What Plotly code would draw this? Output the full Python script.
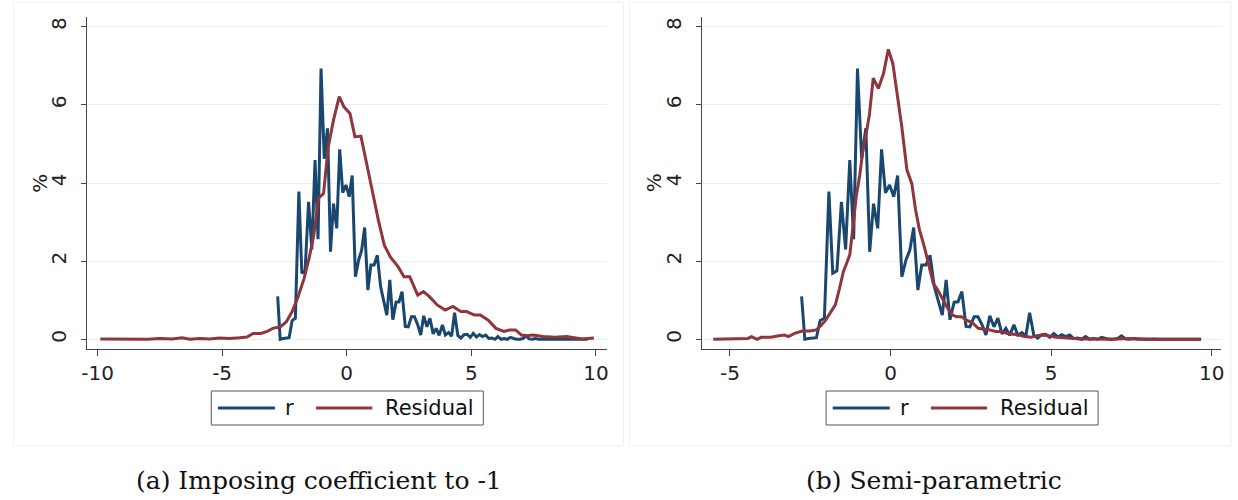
import plotly.graph_objects as go

# ---------------- data ----------------
r_x = [-2.77, -2.67, -2.55, -2.43, -2.31, -2.19, -2.06, -1.92, -1.80, -1.67, -1.53, -1.40, -1.27, -1.15,
       -1.03, -0.90, -0.77, -0.65, -0.53, -0.40, -0.28, -0.16, -0.03, 0.10, 0.22, 0.35, 0.48, 0.60, 0.72,
       0.85, 0.97, 1.10, 1.23, 1.36, 1.48, 1.61, 1.73, 1.85, 1.98, 2.10, 2.22, 2.35, 2.47, 2.60, 2.72,
       2.85, 2.97, 3.09, 3.22, 3.34, 3.47, 3.59, 3.71, 3.84, 3.96, 4.09, 4.21, 4.33, 4.46, 4.58, 4.71,
       4.83, 4.96, 5.08, 5.21, 5.33, 5.45, 5.58, 5.70, 5.83, 5.95, 6.07, 6.20, 6.32, 6.45, 6.57, 6.70,
       6.82, 6.95, 7.07, 7.19, 7.32, 7.44, 7.57, 7.69, 7.82, 7.94, 8.07, 8.19, 8.32, 8.44, 8.57, 8.69,
       8.82, 8.94, 9.07, 9.19, 9.32, 9.44, 9.57, 9.67]
r_y = [1.10, 0.00, 0.02, 0.03, 0.04, 0.48, 0.54, 3.78, 1.69, 1.75, 3.52, 2.30, 4.59, 2.56,
       6.93, 4.62, 5.40, 2.24, 3.47, 2.84, 4.86, 3.75, 3.95, 3.65, 4.19, 1.60, 2.03, 2.28, 2.86,
       1.26, 1.90, 1.90, 2.15, 1.35, 1.00, 0.62, 1.52, 0.50, 0.95, 0.96, 1.22, 0.33, 0.32, 0.58, 0.58,
       0.37, 0.11, 0.60, 0.32, 0.54, 0.14, 0.28, 0.10, 0.37, 0.11, 0.17, 0.08, 0.68, 0.10, 0.03, 0.12,
       0.13, 0.05, 0.15, 0.06, 0.12, 0.07, 0.11, 0.02, 0.03, 0.00, 0.07, 0.00, 0.02, 0.00, 0.05, 0.02,
       0.00, 0.00, 0.02, 0.09, 0.01, 0.00, 0.02, 0.00, 0.01, 0.00, 0.00, 0.01, 0.00, 0.00, 0.00, 0.01,
       0.00, 0.00, 0.00, 0.00, 0.00, 0.00, 0.00, 0.00]

res_a_x = [-9.89, -9.5, -9.0, -8.5, -8.0, -7.5, -7.0, -6.6, -6.3, -5.9, -5.5, -5.1, -4.7, -4.3, -4.0,
           -3.76, -3.44, -3.20, -2.97, -2.66, -2.42, -2.19, -1.95, -1.71, -1.51, -1.32, -1.13, -0.93,
           -0.74, -0.53, -0.30, -0.11, 0.13, 0.33, 0.57, 0.80, 1.04, 1.27, 1.51, 1.75, 2.06, 2.30, 2.53,
           2.85, 3.08, 3.32, 3.63, 3.95, 4.26, 4.58, 4.81, 5.13, 5.36, 5.68, 5.99, 6.31, 6.54, 6.78, 7.01,
           7.25, 7.48, 7.88, 8.35, 8.82, 9.45, 9.92]
res_a_y = [0.01, 0.01, 0.00, 0.01, 0.00, 0.02, 0.01, 0.04, 0.00, 0.02, 0.01, 0.03, 0.02, 0.04, 0.06,
           0.15, 0.15, 0.20, 0.28, 0.32, 0.45, 0.71, 1.09, 1.56, 2.07, 2.67, 3.61, 3.73,
           4.93, 5.61, 6.21, 5.95, 5.78, 5.18, 5.20, 4.50, 3.73, 3.05, 2.41, 2.11, 1.86, 1.60, 1.60,
           1.13, 1.22, 1.09, 0.88, 0.75, 0.84, 0.71, 0.71, 0.62, 0.62, 0.49, 0.28, 0.20, 0.24, 0.24, 0.11,
           0.09, 0.11, 0.07, 0.05, 0.07, 0.01, 0.03]

res_b_x = [-5.52, -4.70, -4.45, -4.33, -4.15, -4.03, -3.72, -3.48, -3.30, -3.18, -2.99, -2.75, -2.51,
           -2.32, -2.20, -2.02, -1.84, -1.72, -1.59, -1.47, -1.37, -1.27, -1.17, -1.07, -0.96, -0.86,
           -0.74, -0.66, -0.54, -0.38, -0.22, -0.07, 0.07, 0.21, 0.35, 0.51, 0.66, 0.78, 0.90, 1.05,
           1.18, 1.33, 1.47, 1.63, 1.78, 1.93, 2.06, 2.21, 2.36, 2.54, 2.73, 2.91, 3.09, 3.27, 3.46,
           3.64, 3.82, 4.00, 4.18, 4.37, 4.55, 4.73, 4.91, 5.16, 5.52, 5.89, 6.25, 6.86, 7.47, 8.08,
           8.69, 9.66]
res_b_y = [0.00, 0.02, 0.02, 0.07, 0.00, 0.05, 0.05, 0.09, 0.11, 0.07, 0.15, 0.21, 0.21,
           0.24, 0.32, 0.49, 0.71, 0.88, 1.30, 1.73, 1.94, 2.16, 2.88, 3.65, 4.20, 4.84,
           5.35, 5.74, 6.68, 6.42, 6.80, 7.42, 7.06, 6.29, 5.44, 4.33, 3.99, 3.31, 2.80, 2.37,
           1.94, 1.43, 1.26, 1.01, 0.79, 0.62, 0.58, 0.58, 0.49, 0.43, 0.28, 0.26, 0.24, 0.20, 0.20,
           0.15, 0.13, 0.11, 0.07, 0.05, 0.09, 0.11, 0.09, 0.05, 0.03, 0.01, 0.01, 0.00, 0.02, 0.00,
           0.00, 0.00]

y_ticks = [0, 2, 4, 6, 8]
y_ticktext = ["0", "2", "4", "6", "8"]
xa_ticks = [-10, -5, 0, 5, 10]
xa_ticktext = ["-10", "-5", "0", "5", "10"]
xb_ticks = [-5, 0, 5, 10]
xb_ticktext = ["-5", "0", "5", "10"]
y_title = "%"
series_names = ["r", "Residual"]
captions = ["(a) Imposing coefficient to -1", "(b) Semi-parametric"]

# ---------------- style ----------------
W, H = 1238, 500
NAVY = "#1a476f"
MAROON = "#90353b"
GRID = "#e8eff1"
AXIS = "#444444"
TICKFONT = dict(family="DejaVu Sans", size=20, color="#222222")
LW = 3


def px_x(p):
    return p / W


def px_y(p):
    return 1 - p / H


fig = go.Figure()
fig.add_trace(go.Scatter(x=r_x, y=r_y, mode="lines", name=series_names[0],
                         line=dict(color=NAVY, width=LW), xaxis="x", yaxis="y", showlegend=False))
fig.add_trace(go.Scatter(x=res_a_x, y=res_a_y, mode="lines", name=series_names[1],
                         line=dict(color=MAROON, width=LW), xaxis="x", yaxis="y", showlegend=False))
fig.add_trace(go.Scatter(x=r_x, y=r_y, mode="lines", name=series_names[0],
                         line=dict(color=NAVY, width=LW), xaxis="x2", yaxis="y2", showlegend=False))
fig.add_trace(go.Scatter(x=res_b_x, y=res_b_y, mode="lines", name=series_names[1],
                         line=dict(color=MAROON, width=LW), xaxis="x2", yaxis="y2", showlegend=False))

ydom = [px_y(349.3), px_y(16.7)]
yrange = [-0.256, 8.256]

common_x = dict(showline=True, linecolor=AXIS, linewidth=1.3, ticks="outside", ticklen=6,
                tickcolor=AXIS, tickwidth=1.3, showgrid=False, zeroline=False, tickfont=TICKFONT)
common_y = dict(showline=True, linecolor=AXIS, linewidth=1.3, ticks="outside", ticklen=5,
                tickcolor=AXIS, tickwidth=1.3, showgrid=True, gridcolor=GRID, gridwidth=1.3,
                zeroline=False, tickfont=TICKFONT, tickangle=-90, tickvals=y_ticks,
                ticktext=y_ticktext, range=yrange, ticklabelstandoff=7)

fig.update_layout(
    width=W, height=H, margin=dict(l=0, r=0, t=0, b=0),
    paper_bgcolor="white", plot_bgcolor="white",
    xaxis=dict(domain=[px_x(81.9), px_x(605.0)], range=[-10.41, 10.43], tickvals=xa_ticks,
               ticktext=xa_ticktext, anchor="y", **common_x),
    yaxis=dict(domain=ydom, anchor="x", **common_y),
    xaxis2=dict(domain=[px_x(700.8), px_x(1224.3)], range=[-5.88, 10.3], tickvals=xb_ticks,
                ticktext=xb_ticktext, anchor="y2", **common_x),
    yaxis2=dict(domain=ydom, anchor="x2", **common_y),
)

shapes = []
annotations = []
# panel frames
for (x0, x1) in [(8, 622), (628, 1234)]:
    shapes.append(dict(type="rect", xref="paper", yref="paper",
                       x0=px_x(x0), x1=px_x(x1), y0=px_y(446), y1=px_y(2),
                       line=dict(color="#eeeeee", width=1), fillcolor="rgba(0,0,0,0)", layer="below"))

# y-axis titles
for tx in [34, 653]:
    annotations.append(dict(x=px_x(tx), y=px_y(183), xref="paper", yref="paper", text=y_title,
                            showarrow=False, textangle=-90, xanchor="center", yanchor="middle",
                            font=dict(family="DejaVu Sans", size=20, color="#222222")))

# legends (drawn manually)
for off in [0, 619.3]:
    bx0, bx1, by0, by1 = 206.8 + off, 480.8 + off, 391, 425
    shapes.append(dict(type="rect", xref="paper", yref="paper",
                       x0=px_x(bx0), x1=px_x(bx1), y0=px_y(by1), y1=px_y(by0),
                       line=dict(color="#555555", width=1), fillcolor="white"))
    ym = (by0 + by1) / 2
    for (lx0, lx1, col, tx, name) in [(213.5, 270.9, NAVY, 279.5, series_names[0]),
                                      (312.4, 368.9, MAROON, 379.5, series_names[1])]:
        shapes.append(dict(type="line", xref="paper", yref="paper",
                           x0=px_x(lx0 + off), x1=px_x(lx1 + off), y0=px_y(ym), y1=px_y(ym),
                           line=dict(color=col, width=LW)))
        annotations.append(dict(x=px_x(tx + off), y=px_y(ym), xref="paper", yref="paper",
                                text=name, showarrow=False, xanchor="left", yanchor="middle",
                                font=dict(family="DejaVu Sans", size=21, color="#111111")))

# captions
for cx, txt in zip([315, 935], captions):
    annotations.append(dict(x=px_x(cx), y=px_y(480), xref="paper", yref="paper", text=txt,
                            showarrow=False, xanchor="center", yanchor="middle",
                            font=dict(family="DejaVu Serif", size=25, color="#111111")))

fig.update_layout(shapes=shapes, annotations=annotations)
fig.write_html("out.html")
